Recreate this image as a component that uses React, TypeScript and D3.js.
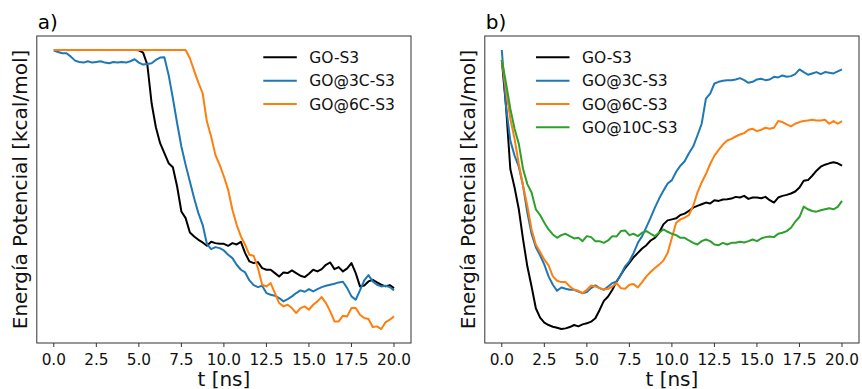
import * as d3 from "d3";

// time grid (ns), one sample every 0.25 ns
const times = [
  0, 0.25, 0.5, 0.75, 1, 1.25, 1.5, 1.75, 2, 2.25, 2.5, 2.75, 3, 3.25, 3.5, 3.75,
  4, 4.25, 4.5, 4.75, 5, 5.25, 5.5, 5.75, 6, 6.25, 6.5, 6.75, 7, 7.25, 7.5, 7.75,
  8, 8.25, 8.5, 8.75, 9, 9.25, 9.5, 9.75, 10, 10.25, 10.5, 10.75, 11, 11.25, 11.5, 11.75,
  12, 12.25, 12.5, 12.75, 13, 13.25, 13.5, 13.75, 14, 14.25, 14.5, 14.75, 15, 15.25, 15.5, 15.75,
  16, 16.25, 16.5, 16.75, 17, 17.25, 17.5, 17.75, 18, 18.25, 18.5, 18.75, 19, 19.25, 19.5, 19.75,
  20,
];

const xTicks = [0, 2.5, 5, 7.5, 10, 12.5, 15, 17.5, 20];

// panel a) relative potential energy (arbitrary units, no y ticks in the figure)
const aGO = [
  -30, -30, -30, -30, -30, -30, -30, -30,
  -30, -30, -30, -30, -30, -30, -30, -30,
  -30, -30, -30, -30, -31, -38, -75, -190,
  -262, -310, -340, -370, -382, -440, -515, -535,
  -578, -590, -600, -608, -618, -606, -610, -612,
  -612, -618, -610, -614, -606, -640, -665, -670,
  -667, -685, -690, -690, -700, -710, -698, -700,
  -692, -700, -708, -712, -702, -690, -695, -688,
  -675, -668, -688, -682, -695, -686, -670, -700,
  -740, -737, -725, -720, -728, -735, -740, -736,
  -745,
];
const aGO3C = [
  -32, -36, -40, -40, -50, -62, -66, -68,
  -64, -68, -66, -64, -68, -70, -66, -68,
  -66, -68, -64, -58, -68, -74, -72, -70,
  -60, -53, -52, -105, -175, -250, -320, -375,
  -425, -475, -520, -555, -612, -628, -622, -625,
  -632, -645, -655, -675, -690, -698, -722, -736,
  -742, -738, -760, -765, -768, -775, -785, -778,
  -770, -760, -752, -756, -748, -755, -748, -742,
  -738, -735, -732, -728, -726, -745, -770, -780,
  -752, -722, -706, -725, -735, -740, -738, -742,
  -752,
];
const aGO6C = [
  -30, -30, -30, -30, -30, -30, -30, -30,
  -30, -30, -30, -30, -30, -30, -30, -30,
  -30, -30, -30, -30, -30, -30, -30, -30,
  -30, -30, -30, -30, -30, -30, -30, -30,
  -55, -92, -128, -160, -245, -290, -345, -375,
  -410, -450, -510, -555, -590, -615, -645, -648,
  -685, -735, -740, -730, -760, -790, -800, -795,
  -805, -820, -805, -800, -810, -795, -785, -772,
  -790, -815, -845, -845, -828, -830, -805, -805,
  -825, -835, -838, -862, -860, -868, -848, -840,
  -830,
];

// panel b)
const bGO = [
  -60, -200, -385, -440, -505, -595, -675, -735,
  -800, -828, -843, -850, -855, -858, -862, -860,
  -856, -850, -854, -848, -845, -840, -830, -805,
  -778, -765, -745, -720, -700, -680, -665, -648,
  -635, -622, -612, -598, -590, -575, -550, -538,
  -535, -532, -522, -518, -510, -500, -495, -490,
  -485, -488, -478, -480, -476, -475, -473, -468,
  -470, -465, -474, -470, -470, -472, -468, -478,
  -485, -470, -465, -462, -458, -452, -440, -420,
  -418, -405, -390, -378, -372, -368, -365, -368,
  -375,
];
const bGO3C = [
  -30, -200, -300, -345, -378, -435, -515, -578,
  -618, -642, -670, -705, -730, -748, -738, -742,
  -745, -745, -750, -755, -752, -740, -732, -740,
  -745, -735, -725, -720, -700, -675, -660, -635,
  -605, -585, -558, -530, -500, -473, -450, -428,
  -418, -393, -375, -362, -338, -318, -285, -250,
  -175, -160, -130, -125, -122, -120, -120, -118,
  -114, -120, -128, -125, -118, -116, -120, -118,
  -110, -112, -106, -110, -108, -102, -88, -96,
  -104, -100, -96, -102, -96, -98, -100, -94,
  -88,
];
const bGO6C = [
  -60, -150, -235, -295, -370, -435, -495, -565,
  -610, -632, -655, -672, -705, -718, -722, -722,
  -735, -745, -748, -755, -745, -732, -735, -740,
  -744, -742, -735, -725, -740, -742, -730, -728,
  -738, -722, -705, -692, -680, -670, -658, -635,
  -590, -545, -535, -530, -522, -495, -455, -425,
  -400, -370, -345, -328, -312, -300, -295, -288,
  -282, -278, -268, -265, -272, -268, -262, -265,
  -262, -242, -245, -252, -258, -250, -245, -242,
  -240, -238, -240, -240, -238, -250, -242, -250,
  -242,
];
const bGO10C = [
  -60, -130, -205, -265, -310, -385, -430, -455,
  -505, -522, -545, -565, -580, -590, -582, -578,
  -585, -592, -590, -600, -585, -588, -600, -600,
  -605, -598, -585, -586, -570, -568, -582, -578,
  -585, -575, -570, -578, -585, -575, -565, -572,
  -578, -582, -590, -590, -598, -605, -610, -600,
  -595, -600, -610, -612, -605, -610, -605, -605,
  -602, -604, -600, -595, -600, -592, -588, -586,
  -588, -578, -575, -570, -560, -542, -528, -497,
  -505, -510, -512, -508, -505, -502, -505, -498,
  -480,
];

const seriesA = [
  { name: "GO-S3", color: "#000000", values: aGO },
  { name: "GO@3C-S3", color: "#1f77b4", values: aGO3C },
  { name: "GO@6C-S3", color: "#ff7f0e", values: aGO6C },
];
const seriesB = [
  { name: "GO-S3", color: "#000000", values: bGO },
  { name: "GO@3C-S3", color: "#1f77b4", values: bGO3C },
  { name: "GO@6C-S3", color: "#ff7f0e", values: bGO6C },
  { name: "GO@10C-S3", color: "#2ca02c", values: bGO10C },
];

const FONT = "DejaVu Sans, sans-serif";

interface Series {
  name: string;
  color: string;
  values: number[];
}

function Panel({
  label,
  series,
  x0,
  x1,
  legendX,
}: {
  label: string;
  series: Series[];
  x0: number;
  x1: number;
  legendX: number;
}) {
  const y0 = 36;
  const y1 = 343;

  const xScale = d3.scaleLinear().domain([-1, 21]).range([x0, x1]);
  const all = series.flatMap((s) => s.values);
  const [lo, hi] = d3.extent(all) as [number, number];
  const pad = (hi - lo) * 0.05;
  const yScale = d3.scaleLinear().domain([lo - pad, hi + pad]).range([y1, y0]);

  const line = d3
    .line<number>()
    .x((_, i) => xScale(times[i]))
    .y((d) => yScale(d));

  const cx = (x0 + x1) / 2;
  const cy = (y0 + y1) / 2;

  return (
    <g>
      <text x={x0 + 1} y={29} fontSize={20} fontFamily={FONT} fill="#000">
        {label}
      </text>
      {series.map((s) => (
        <path
          key={s.name}
          d={line(s.values) ?? ""}
          fill="none"
          stroke={s.color}
          strokeWidth={2}
          strokeLinejoin="round"
        />
      ))}
      <rect x={x0} y={y0} width={x1 - x0} height={y1 - y0} fill="none" stroke="#333" strokeWidth={1} />
      {xTicks.map((t) => (
        <g key={t}>
          <line x1={xScale(t)} x2={xScale(t)} y1={y1} y2={y1 + 4} stroke="#333" strokeWidth={1} />
          <text
            x={xScale(t)}
            y={365}
            textAnchor="middle"
            fontSize={15.3}
            fontFamily={FONT}
            fill="#111"
          >
            {t.toFixed(1)}
          </text>
        </g>
      ))}
      <text x={cx} y={386} textAnchor="middle" fontSize={20} fontFamily={FONT} fill="#111">
        t [ns]
      </text>
      <text
        transform={`translate(${x0 - 9.5},${cy}) rotate(-90)`}
        textAnchor="middle"
        fontSize={20}
        fontFamily={FONT}
        fill="#111"
      >
        Energía Potencial [kcal/mol]
      </text>
      {series.map((s, i) => {
        const ly = 57.3 + i * 23.35;
        return (
          <g key={s.name}>
            <line x1={legendX} x2={legendX + 33.5} y1={ly} y2={ly} stroke={s.color} strokeWidth={2} />
            <text x={legendX + 46} y={ly + 5.5} fontSize={15.5} fontFamily={FONT} fill="#111">
              {s.name}
            </text>
          </g>
        );
      })}
    </g>
  );
}

export default function App() {
  return (
    <svg
      width={862}
      height={389}
      viewBox="0 0 862 389"
      style={{ position: "absolute", left: 0, top: 0, background: "#fff" }}
    >
      <rect width={862} height={389} fill="#fff" />
      <Panel label="a)" series={seriesA} x0={36.8} x1={411} legendX={263.3} />
      <Panel label="b)" series={seriesB} x0={484.8} x1={859} legendX={536} />
    </svg>
  );
}
